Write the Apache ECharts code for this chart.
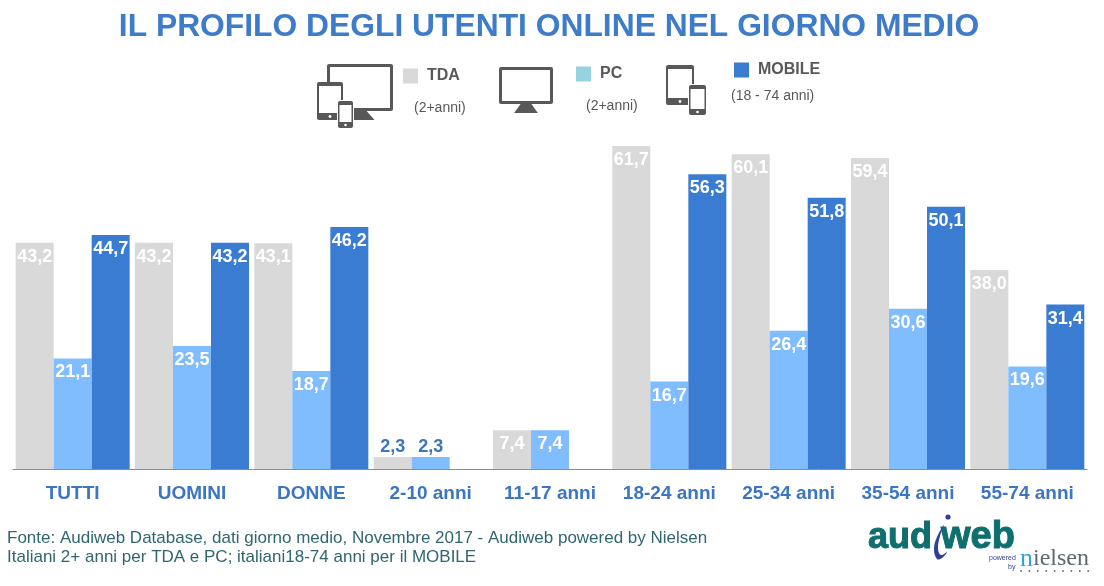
<!DOCTYPE html>
<html>
<head>
<meta charset="utf-8">
<style>html,body{margin:0;background:#fff}#main{width:1104px;height:586px}</style>
<script src="https://cdn.jsdelivr.net/npm/echarts@6/dist/echarts.min.js"></script>
</head>
<body>
<div id="main"></div>
<script>
var categories = ['TUTTI', 'UOMINI', 'DONNE', '2-10 anni', '11-17 anni', '18-24 anni', '25-34 anni', '35-54 anni', '55-74 anni'];
var tda = [43.2, 43.2, 43.1, 2.3, 7.4, 61.7, 60.1, 59.4, 38.0];
var pc = [21.1, 23.5, 18.7, 2.3, 7.4, 16.7, 26.4, 30.6, 19.6];
var mobile = [44.7, 43.2, 46.2, null, null, 56.3, 51.8, 50.1, 31.4];

var titleText = 'IL PROFILO DEGLI UTENTI ONLINE NEL GIORNO MEDIO';
var sourceLines = [
  'Fonte: Audiweb Database, dati giorno medio, Novembre 2017 - Audiweb powered by Nielsen',
  'Italiani 2+ anni per TDA e PC; italiani18-74 anni per il MOBILE'
];

var font = '"Liberation Sans", Arial, sans-serif';
var blue = '#3B7CD3';
var iconColor = '#585858';

function comma(p) {
  return p.value.toFixed(1).replace('.', ',');
}

// values too small to hold a label go above the bar, in blue
function barData(values) {
  return values.map(function (v) {
    if (v !== null && v < 5) {
      return { value: v, label: { position: 'top', distance: 1, color: '#3E74C0' } };
    }
    return v;
  });
}

function barSeries(name, values, color) {
  return {
    name: name,
    type: 'bar',
    data: barData(values),
    barWidth: 38,
    barGap: 0,
    itemStyle: { color: color },
    label: {
      show: true,
      position: 'insideTop',
      distance: 5,
      color: '#fff',
      fontFamily: font,
      fontWeight: 'bold',
      fontSize: 18,
      formatter: comma
    },
    silent: true
  };
}

function legendFor(name, left, top, color) {
  return {
    data: [{ name: name, itemStyle: { color: color } }],
    left: left,
    top: top,
    padding: 0,
    itemWidth: 15,
    itemHeight: 15,
    icon: 'rect',
    selectedMode: false,
    textStyle: { color: iconColor, fontFamily: font, fontWeight: 'bold', fontSize: 16, padding: [0, 0, 0, 4] }
  };
}

function box(x, y, w, h, r, fill) {
  return { type: 'rect', shape: { x: x, y: y, width: w, height: h, r: r }, style: { fill: fill }, silent: true };
}
function circle(x, y, r, fill) {
  return { type: 'circle', shape: { cx: x, cy: y, r: r }, style: { fill: fill }, silent: true };
}
function label(x, y, text, size, color, extra) {
  var style = { x: x, y: y, text: text, fontFamily: font, fontSize: size, fill: color, textVerticalAlign: 'middle' };
  for (var k in extra) style[k] = extra[k];
  return { type: 'text', style: style, silent: true };
}
function monitor(x, y, w, h) {
  return [
    { type: 'polygon', shape: { points: [[x + w * 0.4, y + h], [x + w * 0.6, y + h], [x + w * 0.72, y + h + 9], [x + w * 0.28, y + h + 9]] }, style: { fill: iconColor }, silent: true },
    box(x, y, w, h, 2, iconColor),
    box(x + 3, y + 3, w - 6, h - 6, 0, '#fff')
  ];
}
function tablet(x, y, w, h) {
  return [
    box(x, y, w, h, 2, iconColor),
    box(x + 2, y + 4, w - 4, h - 11, 0, '#fff'),
    circle(x + w / 2, y + h - 3.5, 1.4, '#fff')
  ];
}
function phone(x, y, w, h) {
  return [
    box(x - 1, y - 1, w + 2, h + 2, 2, '#fff'),
    box(x, y, w, h, 2, iconColor),
    box(x + 1.5, y + 4, w - 3, h - 10, 0, '#fff'),
    circle(x + w / 2, y + h - 3, 1.3, '#fff')
  ];
}

var logoDots = [];
for (var d = 0; d < 9; d++) {
  logoDots.push(circle(1021 + d * 8.4, 571, 0.9, '#5F6A70'));
}

var graphics = [].concat(
  monitor(327, 64, 66, 47),
  tablet(317, 82, 26, 38),
  phone(338, 101, 15, 27),
  monitor(499, 67, 54, 37),
  tablet(666, 65, 28, 40),
  phone(689, 85, 17, 30),
  [
    label(414, 108, '(2+anni)', 14, iconColor),
    label(586, 106, '(2+anni)', 14, iconColor),
    label(731, 96, '(18 - 74 anni)', 14, iconColor),
    label(7, 538, sourceLines[0], 17, '#2F6670'),
    label(7, 557, sourceLines[1], 17, '#2F6670'),
    // logo
    label(868, 538, 'aud', 36, '#0F6E6E', { fontWeight: 'bold', stroke: '#0F6E6E', lineWidth: 1 }),
    label(941, 538, 'web', 38, '#0F6E6E', { fontWeight: 'bold', stroke: '#0F6E6E', lineWidth: 1 }),
    { type: 'polygon', shape: { smooth: 0.4, points: [[944, 525], [937, 537], [934, 549], [937, 559], [942, 558], [947, 552], [941, 555], [938, 549], [940, 536]] }, style: { fill: '#2F3F9E' }, silent: true },
    circle(948, 517, 2.6, '#2F3F9E'),
    label(989, 558, 'powered', 7, '#2F3F9E'),
    label(1008, 567, 'by', 7, '#2F3F9E'),
    label(1020, 559, 'n', 26, '#2FA5D8', { fontFamily: '"Liberation Serif", serif' }),
    label(1033, 559, 'ielsen', 24, '#5F6A70', { fontFamily: '"Liberation Serif", serif' })
  ],
  logoDots
);

var myChart = echarts.init(document.getElementById('main'));
var option = {
  animation: false,
  backgroundColor: '#fff',
  title: {
    text: titleText,
    left: 549,
    textAlign: 'center',
    top: 11,
    padding: 0,
    textStyle: { color: '#3E7CC9', fontFamily: font, fontWeight: 'bold', fontSize: 31.8 }
  },
  legend: [
    legendFor('TDA', 403, 68, '#D9D9D9'),
    legendFor('PC', 576, 66, '#96D2E0'),
    legendFor('MOBILE', 734, 62, blue)
  ],
  grid: { left: 13, width: 1074, top: 102.5, bottom: 117 },
  xAxis: {
    type: 'category',
    data: categories,
    axisTick: { show: false },
    axisLine: { lineStyle: { color: '#8C8C8C', width: 1 } },
    axisLabel: { interval: 0, hideOverlap: false, color: '#3B75C4', fontFamily: font, fontWeight: 'bold', fontSize: 19, margin: 15 }
  },
  yAxis: { type: 'value', min: 0, max: 70, show: false },
  series: [
    barSeries('TDA', tda, '#D9D9D9'),
    barSeries('PC', pc, '#80BDFF'),
    barSeries('MOBILE', mobile, blue)
  ],
  graphic: graphics
};
myChart.setOption(option);
</script>
</body>
</html>
